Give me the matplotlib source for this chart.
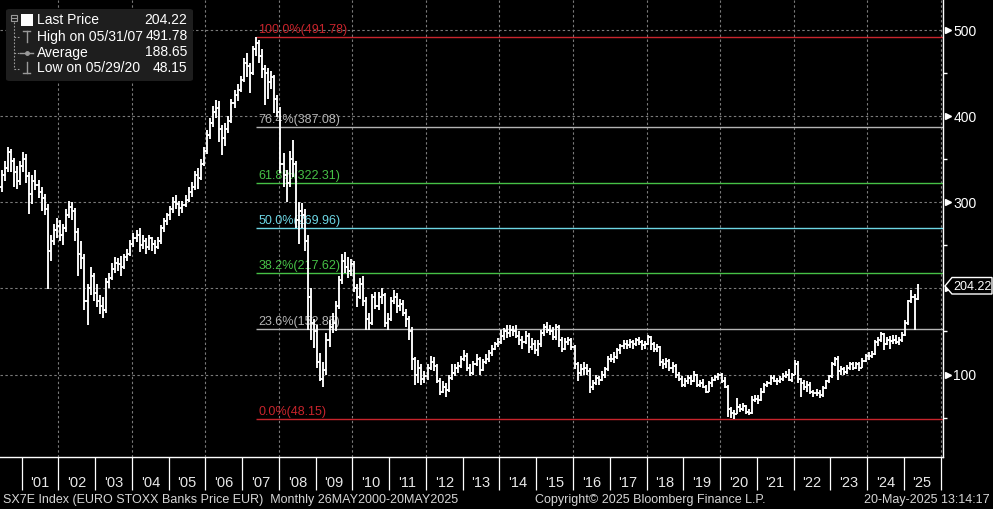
import numpy as np
import matplotlib
matplotlib.use("Agg")
import matplotlib.pyplot as plt
from matplotlib import patches, transforms

plt.rcParams['font.family'] = ['Liberation Sans', 'DejaVu Sans']

# Monthly bars, May 2000 .. May 2025
first_open = 322
close = [
    318, 332, 340, 358, 348, 335, 325, 342,                          # 2000 May-Dec
    350, 330, 310, 325, 320, 312, 305, 292, 244, 255, 268, 272,      # 2001
    262, 270, 285, 295, 290, 265, 240, 235, 185, 200, 215, 195,      # 2002
    185, 180, 175, 208, 212, 222, 230, 228, 225, 236, 240, 252,      # 2003
    258, 262, 250, 255, 248, 258, 252, 248, 255, 270, 278, 285,      # 2004
    292, 300, 298, 293, 297, 303, 312, 318, 332, 328, 345, 360,      # 2005
    378, 392, 405, 410, 385, 375, 385, 395, 415, 425, 430, 442,      # 2006
    462, 458, 450, 478, 485, 470, 455, 450, 440, 445, 420, 405,      # 2007
    345, 332, 322, 350, 345, 280, 290, 285, 255, 190, 160, 150,      # 2008
    115, 95, 105, 140, 155, 160, 180, 210, 232, 225, 220, 228,       # 2009
    200, 190, 205, 185, 165, 160, 190, 180, 190, 192, 160, 165,      # 2010
    185, 190, 180, 182, 172, 165, 150, 118, 100, 108, 95, 98,        # 2011
    108, 115, 110, 92, 80, 86, 82, 96, 102, 108, 110, 118,           # 2012
    122, 108, 102, 112, 118, 105, 115, 118, 125, 130, 135, 138,      # 2013
    145, 150, 148, 152, 150, 145, 140, 138, 145, 132, 135, 128,      # 2014
    135, 148, 155, 152, 150, 143, 155, 140, 130, 138, 140, 132,      # 2015
    112, 102, 106, 108, 104, 86, 90, 96, 94, 100, 106, 118,          # 2016
    118, 120, 128, 133, 135, 134, 138, 136, 140, 138, 134, 135,      # 2017
    143, 135, 130, 132, 115, 112, 116, 108, 110, 100, 95, 88,        # 2018
    92, 96, 92, 100, 88, 90, 86, 80, 90, 94, 97, 100,                # 2019
    92, 86, 60, 55, 54, 62, 60, 64, 56, 55, 70, 72,                  # 2020
    70, 80, 88, 90, 96, 93, 92, 95, 98, 100, 94, 100,                # 2021
    112, 95, 90, 85, 88, 80, 78, 78, 76, 84, 92, 98,                 # 2022
    112, 118, 104, 106, 103, 108, 112, 108, 112, 108, 116, 122,      # 2023
    122, 124, 138, 140, 147, 136, 140, 139, 140, 138, 140, 146,      # 2024
    160, 185, 190, 188, 204.22,                                      # 2025 Jan-May
]
high = [
    330, 338, 348, 364, 362, 352, 342, 348,
    358, 356, 335, 332, 338, 326, 318, 310, 298, 262, 275, 282,
    280, 275, 292, 302, 300, 293, 270, 255, 240, 205, 225, 218,
    205, 192, 190, 212, 218, 230, 236, 235, 238, 240, 246, 256,
    264, 268, 270, 262, 258, 262, 260, 256, 260, 274, 282, 288,
    296, 306, 308, 302, 302, 308, 318, 324, 336, 340, 350, 364,
    384, 398, 412, 419, 418, 390, 392, 400, 420, 430, 438, 447,
    468, 474, 462, 482, 491.78, 488, 478, 460, 456, 452, 448, 425,
    411, 357, 338, 360, 372, 348, 300, 299, 292, 262, 200, 165,
    158, 125, 115, 148, 163, 172, 185, 214, 240, 242, 236, 234,
    232, 205, 212, 215, 190, 172, 194, 196, 196, 200, 195, 172,
    190, 198, 195, 188, 186, 176, 168, 155, 120, 117, 112, 104,
    112, 122, 120, 112, 96, 92, 90, 100, 112, 112, 114, 121,
    128, 125, 112, 116, 124, 120, 118, 124, 128, 134, 138, 142,
    152, 154, 157, 158, 156, 158, 150, 145, 150, 148, 142, 140,
    140, 152, 159, 161, 158, 155, 159, 158, 144, 142, 144, 142,
    134, 114, 112, 114, 112, 108, 94, 100, 98, 104, 109, 122,
    124, 126, 131, 136, 140, 140, 141, 140, 142, 143, 140, 139,
    146, 145, 138, 136, 133, 118, 119, 118, 115, 112, 103, 98,
    96, 99, 100, 104, 101, 94, 95, 88, 93, 97, 100, 102,
    102, 97, 88, 62, 59, 73, 66, 67, 65, 60, 75, 76,
    76, 84, 90, 93, 99, 100, 96, 98, 102, 104, 106, 102,
    117, 116, 96, 94, 92, 91, 82, 83, 82, 87, 94, 100,
    114, 120, 121, 110, 109, 111, 115, 114, 115, 114, 119, 124,
    126, 127, 140, 144, 149, 148, 144, 145, 146, 146, 144, 149,
    163, 187, 198, 193, 205.5,
]
low = [
    305, 312, 325, 335, 335, 318, 315, 320,
    335, 322, 287, 298, 314, 305, 290, 285, 199, 232, 250, 258,
    255, 250, 266, 282, 280, 255, 215, 222, 175, 157, 192, 185,
    178, 170, 166, 172, 200, 210, 218, 220, 215, 222, 232, 238,
    248, 254, 242, 246, 240, 245, 244, 240, 246, 252, 266, 274,
    280, 288, 292, 284, 288, 294, 300, 306, 314, 315, 326, 342,
    356, 374, 388, 398, 370, 355, 365, 380, 392, 410, 418, 428,
    440, 445, 427, 448, 470, 462, 444, 413, 420, 432, 404, 399,
    334, 318, 300, 318, 329, 270, 252, 270, 244, 152, 140, 131,
    108, 92, 86, 100, 132, 148, 150, 176, 205, 218, 212, 215,
    196, 178, 188, 180, 152, 152, 158, 176, 175, 182, 155, 152,
    162, 182, 171, 174, 168, 155, 140, 105, 88, 90, 88, 90,
    94, 105, 104, 90, 76, 78, 74, 80, 94, 98, 102, 108,
    116, 104, 98, 100, 110, 100, 104, 112, 114, 122, 128, 132,
    136, 140, 142, 143, 145, 142, 134, 130, 135, 125, 128, 124,
    122, 132, 145, 148, 146, 140, 140, 132, 126, 128, 134, 128,
    106, 92, 98, 100, 100, 79, 82, 88, 88, 92, 96, 104,
    114, 113, 118, 124, 130, 130, 131, 130, 133, 134, 129, 130,
    134, 128, 126, 126, 110, 106, 108, 104, 102, 96, 92, 86,
    86, 89, 88, 91, 86, 85, 84, 79, 80, 86, 92, 94,
    90, 84, 51, 50, 48.15, 54, 56, 58, 54, 53, 54, 68,
    66, 69, 78, 86, 88, 91, 88, 90, 92, 96, 92, 91,
    99, 90, 74, 82, 80, 77, 74, 75, 73, 74, 83, 90,
    96, 110, 94, 100, 100, 101, 105, 105, 106, 104, 107, 115,
    117, 119, 123, 133, 138, 128, 134, 130, 136, 135, 134, 138,
    145, 158, 183, 152, 186,
]

year_labels = ["'%02d" % y for y in range(1, 26)]
y_ticks = [100, 200, 300, 400, 500]
y_labels = ['100', '', '300', '400', '500']   # 200 sits under the last price tag

# Fibonacci retracement from the May 2007 high
fib_pct = ["100.0%", "76.4%", "61.8%", "50.0%", "38.2%", "23.6%", "0.0%"]
fib_level = [491.78, 387.08, 322.31, 269.96, 217.62, 152.85, 48.15]
fib_color = ['#c8242c', '#b4b4b4', '#46c046', '#6cd6e4', '#46c046', '#b4b4b4', '#c8242c']
fib_start = 84  # bar index of May 2007

legend_rows = [("Last Price", "204.22"), ("High on 05/31/07", "491.78"),
               ("Average", "188.65"), ("Low on 05/29/20", "48.15")]

W, H = 993, 509
fig = plt.figure(figsize=(W / 100, H / 100), dpi=100, facecolor='black')
ax = fig.add_axes([0, 1 - 457 / H, 943 / W, 457 / H])
ax.set_facecolor('black')

def px(x, y):
    return x / W, 1 - y / H

n = len(close)
x = np.arange(n)
opens = np.r_[first_open, close[:-1]]

# gridlines
for v in y_ticks:
    ax.axhline(v, color='#7a7a7a', lw=0.8, ls=(0, (2.2, 2.2)), zorder=1)
for k in range(1, 14):
    ax.axvline(7.5 + 24 * k - 12, color='#7a7a7a', lw=0.8, ls=(0, (2.2, 2.2)), zorder=1)

# fib lines
for pct, lev, col in zip(fib_pct, fib_level, fib_color):
    ax.hlines(lev, fib_start, 320, color=col, lw=1.0, zorder=2)
    ax.text(fib_start + 0.8, lev + 1.5, "%s(%.2f)" % (pct, lev), color=col,
            fontsize=9, va='bottom', ha='left', zorder=3)

# OHLC bars
ax.vlines(x, low, high, color='white', lw=1.35, zorder=4)
ax.hlines(opens, x - 0.55, x, color='white', lw=1.35, zorder=4)
ax.hlines(close, x, x + 0.55, color='white', lw=1.35, zorder=4)

ax.set_xlim(0.42, 308.3)
ax.set_ylim(4.2, 535)

for s in ['top', 'left']:
    ax.spines[s].set_visible(False)
for s in ['bottom', 'right']:
    ax.spines[s].set_color('white')
    ax.spines[s].set_linewidth(1.0)

# x axis: year cells
ax.set_xticks([7.5 + 12 * k for k in range(26)])
ax.set_xticklabels([])
ax.set_xticks([13.5 + 12 * k for k in range(25)], minor=True)
ax.set_xticklabels(year_labels, minor=True)
ax.tick_params(axis='x', which='major', length=24, width=0.9, color='white', direction='out')
ax.tick_params(axis='x', which='minor', length=0, pad=14, labelsize=10.5, labelcolor='#e8e8e8')

# y axis on the right
ax.yaxis.tick_right()
ax.set_yticks(y_ticks)
ax.set_yticklabels(y_labels)
ax.set_yticks([50, 150, 250, 350, 450], minor=True)
ax.tick_params(axis='y', which='major', length=0, pad=7.5, labelsize=10, labelcolor='white')
ax.tick_params(axis='y', which='minor', length=3, width=1, color='white', direction='out')
tr = transforms.blended_transform_factory(ax.transAxes, ax.transData)
ax.plot([1.0048] * 5, y_ticks, marker='>', ms=5, color='white',
        ls='none', transform=tr, clip_on=False, zorder=5)

# last price tag
tag = patches.Polygon([px(945, 286), px(952, 277.5), px(992, 277.5), px(992, 294), px(952, 294)],
                      closed=True, transform=fig.transFigure, facecolor='black',
                      edgecolor='white', lw=1.0, zorder=10)
fig.patches.append(tag)
fig.text(*px(953, 286.5), "204.22", color='white', fontsize=9, va='center', ha='left', zorder=11)

# legend box
box = patches.FancyBboxPatch(px(6, 81), 187 / W, 72 / H,
                             boxstyle='round,pad=0,rounding_size=0.004',
                             transform=fig.transFigure, facecolor='#1e1e1e',
                             edgecolor='none', zorder=10)
fig.patches.append(box)
rows_y = [20.5, 36.5, 52.5, 68.5]
g = '#9a9a9a'
fig.add_artist(plt.Line2D(*zip(px(13.7, 22), px(13.7, 68.5)), color=g, lw=0.8,
                          ls=(0, (1.5, 1.5)), transform=fig.transFigure, zorder=11))
fig.patches.append(patches.Rectangle(px(11, 21), 6 / W, 6 / H, transform=fig.transFigure,
                                     fill=False, edgecolor=g, lw=0.8, zorder=11))
fig.add_artist(plt.Line2D(*zip(px(12, 18), px(16, 18)), color=g, lw=0.8,
                          transform=fig.transFigure, zorder=11))
for yy in rows_y[1:]:
    fig.add_artist(plt.Line2D(*zip(px(13.7, yy), px(20, yy)), color=g, lw=0.8,
                              ls=(0, (1.5, 1.5)), transform=fig.transFigure, zorder=11))
fig.patches.append(patches.Rectangle(px(21, 26), 12 / W, 12 / H, transform=fig.transFigure,
                                     facecolor='white', edgecolor='none', zorder=11))
# high / average / low icons
for seg in [((23, 31), (30, 31)), ((26.5, 31), (26.5, 42)),
            ((20, 52.5), (33, 52.5)),
            ((26.5, 62), (26.5, 73)), ((23, 73), (30, 73))]:
    fig.add_artist(plt.Line2D(*zip(px(*seg[0]), px(*seg[1])), color=g, lw=1.0,
                              transform=fig.transFigure, zorder=11))
fig.add_artist(plt.Line2D([px(26.5, 52.5)[0]], [px(26.5, 52.5)[1]], marker='o', ms=2.5,
                          color=g, transform=fig.transFigure, zorder=11))
for (lab, val), yy in zip(legend_rows, rows_y):
    fig.text(*px(37, yy), lab, color='white', fontsize=10, va='center', ha='left', zorder=12)
    fig.text(*px(187.5, yy), val, color='white', fontsize=10, va='center', ha='right', zorder=12)

# footer
fc = '#d6d6d6'
fig.text(*px(3, 500), "SX7E Index (EURO STOXX Banks Price EUR)  Monthly 26MAY2000-20MAY2025",
         color=fc, fontsize=9, va='center', ha='left')
fig.text(*px(535, 500), "Copyright\u00a9 2025 Bloomberg Finance L.P.",
         color=fc, fontsize=9, va='center', ha='left')
fig.text(*px(990, 500), "20-May-2025 13:14:17", color=fc, fontsize=9, va='center', ha='right')

fig.savefig('out.png', dpi=100, facecolor='black')
